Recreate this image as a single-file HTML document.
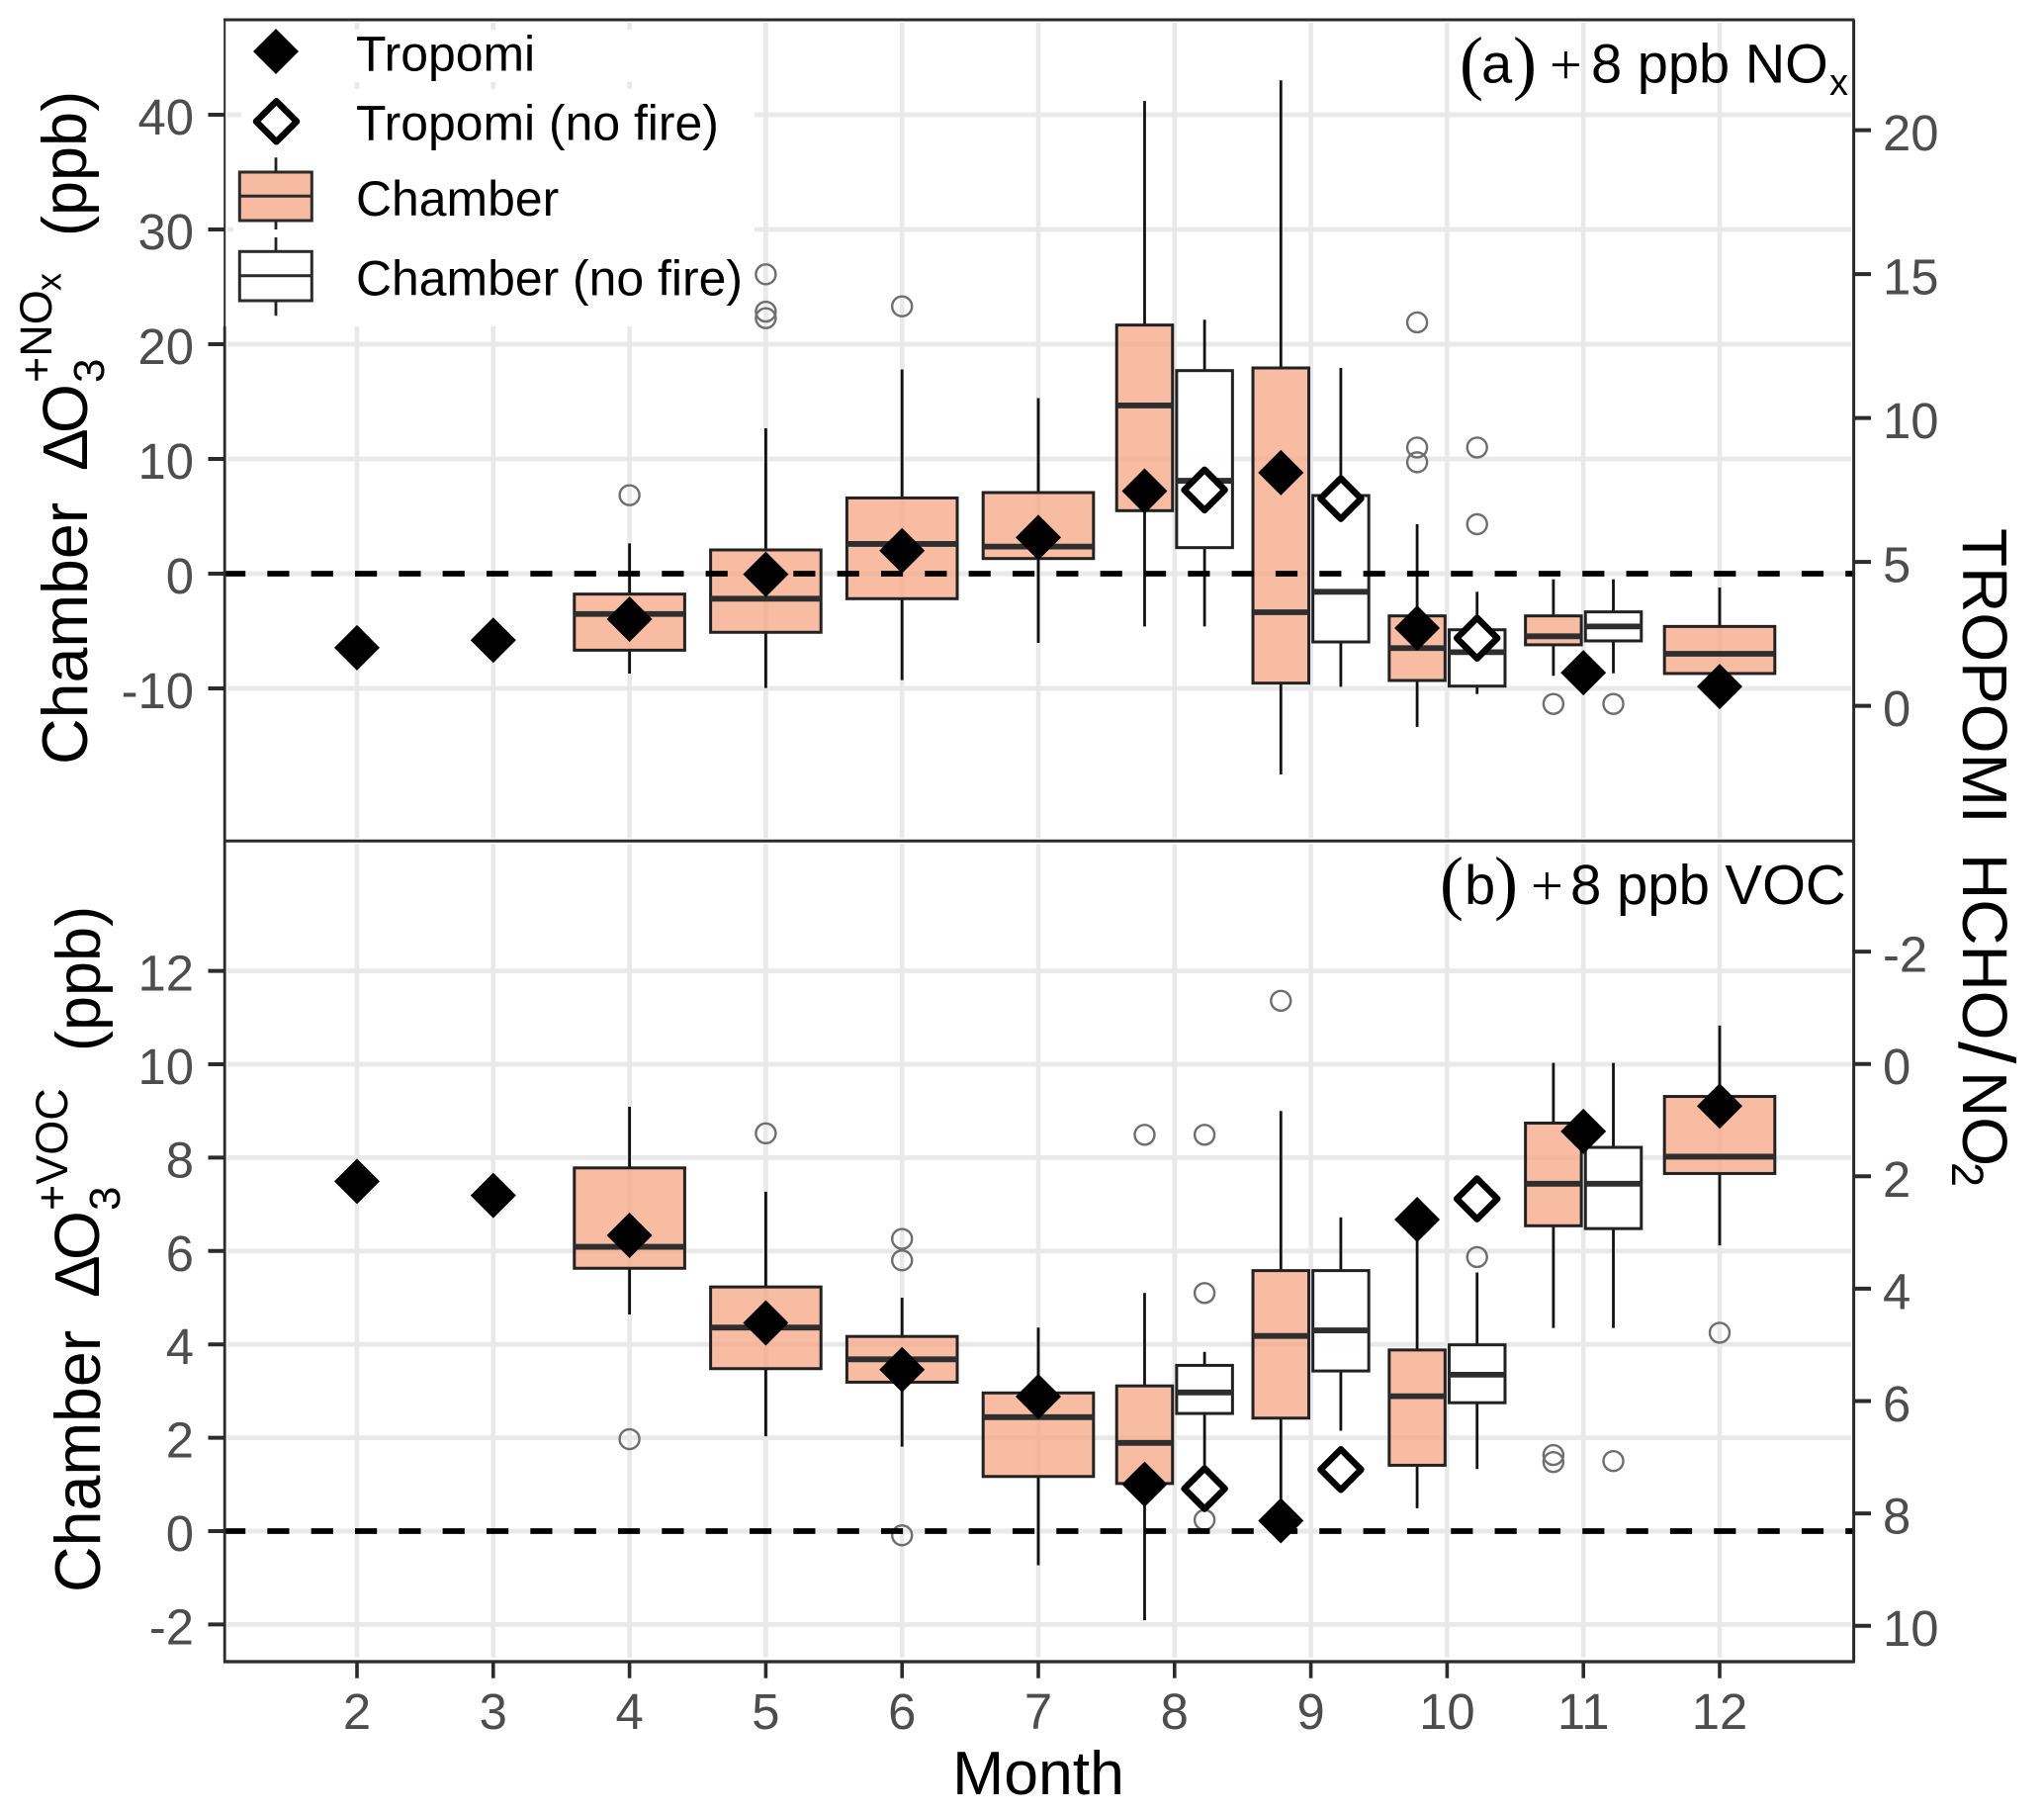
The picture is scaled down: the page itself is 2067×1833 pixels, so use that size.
<!DOCTYPE html>
<html lang="en">
<head>
<meta charset="utf-8">
<title>Chamber and TROPOMI ozone sensitivity by month</title>
<style>
html,body{margin:0;padding:0;background:#fff;width:2067px;height:1833px;overflow:hidden}
svg{display:block}
text{font-family:"Liberation Sans",sans-serif;fill:#000}
.tick{fill:#4d4d4d;font-size:50.8px}
.serif{font-family:"Liberation Serif",serif}
</style>
</head>
<body>
<svg id="chart" width="2067" height="1833" viewBox="0 0 2067 1833" xmlns="http://www.w3.org/2000/svg">
  <g id="grid"></g>
  <g id="marks"></g>
  <g id="refs"></g>
  <g id="points"></g>

  <g id="legend">
    <rect x="228" y="30" width="535" height="53" fill="#fff"/>
    <rect x="228" y="90" width="535" height="240" fill="#fff"/>
    <g>
      <polygon points="279,29 302,52 279,75 256,52" fill="#000"/>
      <text x="360" y="71.7" font-size="49.9">Tropomi</text>
    </g>
    <g>
      <polygon points="279.5,102.3 300,122.8 279.5,143.3 259,122.8" fill="#fff" stroke="#000" stroke-width="6.5" stroke-linejoin="round"/>
      <text x="360" y="141.7" font-size="49.9">Tropomi (no fire)</text>
    </g>
    <g>
      <line x1="279" x2="279" y1="159.3" y2="232" stroke="#222" stroke-width="2.8"/>
      <rect x="242.3" y="174" width="73" height="49" fill="#f7bba2" stroke="#2b2b2b" stroke-width="3"/>
      <line x1="242.3" x2="315.3" y1="198.3" y2="198.3" stroke="#2b2b2b" stroke-width="3"/>
      <text x="360" y="218" font-size="49.9">Chamber</text>
    </g>
    <g>
      <line x1="279" x2="279" y1="240" y2="319.3" stroke="#222" stroke-width="2.8"/>
      <rect x="242.3" y="254.3" width="73" height="49.7" fill="#fff" stroke="#2b2b2b" stroke-width="3"/>
      <line x1="242.3" x2="315.3" y1="278.7" y2="278.7" stroke="#2b2b2b" stroke-width="3"/>
      <text x="360" y="298.3" font-size="49.9">Chamber (no fire)</text>
    </g>
  </g>

  <g id="frame" fill="none" stroke="#2b2b2b">
    <line x1="226" x2="1875.5" y1="20" y2="20" stroke-width="3"/>
    <line x1="226" x2="1875.5" y1="850.3" y2="850.3" stroke-width="3"/>
    <line x1="226" x2="1875.5" y1="1680" y2="1680" stroke-width="3.2"/>
    <line x1="227.2" x2="227.2" y1="20" y2="330" stroke-width="2"/>
    <line x1="227.2" x2="227.2" y1="330" y2="1681" stroke-width="2.8"/>
    <line x1="1874.6" x2="1874.6" y1="20" y2="1681" stroke-width="3"/>
  </g>
  <g id="ticks"></g>

  <g id="titles">
    <text x="1050" y="1814" font-size="62.5" text-anchor="middle">Month</text>

    <g>
      <text transform="translate(88,773) rotate(-90)" font-size="64.5">Chamber</text>
      <text transform="translate(88,476) rotate(-90)" font-size="64">Δ</text>
      <text transform="translate(88,438) rotate(-90)" font-size="64">O</text>
      <text transform="translate(105,387) rotate(-90)" font-size="44">3</text>
      <text transform="translate(52,387) rotate(-90)" font-size="45">+NO</text>
      <text transform="translate(61.7,294) rotate(-90)" font-size="36">x</text>
      <text transform="translate(87,239) rotate(-90)" font-size="63">(ppb)</text>
    </g>

    <g>
      <text transform="translate(101,1610) rotate(-90)" font-size="64.5">Chamber</text>
      <text transform="translate(100,1312) rotate(-90)" font-size="64">Δ</text>
      <text transform="translate(100,1274) rotate(-90)" font-size="64">O</text>
      <text transform="translate(121,1224) rotate(-90)" font-size="44">3</text>
      <text transform="translate(68,1224) rotate(-90)" font-size="45">+VOC</text>
      <text transform="translate(101,1063) rotate(-90)" font-size="63">(ppb)</text>
    </g>

    <g>
      <text transform="translate(1985,534) rotate(90)" font-size="64">TROPOMI</text>
      <text transform="translate(1985,863) rotate(90)" font-size="64">HCHO</text>
      <text transform="translate(1981,1053) rotate(90)" font-size="80">/</text>
      <text transform="translate(1985,1083) rotate(90)" font-size="64">NO</text>
      <text transform="translate(1974,1175) rotate(90)" font-size="45">2</text>
    </g>
  </g>

  <g id="annotation-a">
    <text class="serif" x="1476" y="87" font-size="72">(</text>
    <text x="1498" y="83.4" font-size="56">a</text>
    <text class="serif" x="1530" y="87" font-size="72">)</text>
    <text class="serif" x="1567" y="85" font-size="58">+</text>
    <text x="1609" y="83.4" font-size="56">8 ppb NO</text>
    <text x="1850" y="96" font-size="38">x</text>
  </g>
  <g id="annotation-b">
    <text class="serif" x="1456" y="916" font-size="72">(</text>
    <text x="1481" y="914" font-size="56">b</text>
    <text class="serif" x="1511" y="916" font-size="72">)</text>
    <text class="serif" x="1548" y="915" font-size="58">+</text>
    <text x="1588" y="914" font-size="56.3">8 ppb VOC</text>
  </g>
</svg>

<script>
// ---- tick labels
const monthTicks = [2, 3, 4, 5, 6, 7, 8, 9, 10, 11, 12];
const aLeftTicks = [-10, 0, 10, 20, 30, 40];
const aRightTicks = [0, 5, 10, 15, 20];
const bLeftTicks = [-2, 0, 2, 4, 6, 8, 10, 12];
const bRightTicks = [-2, 0, 2, 4, 6, 8, 10];

// ---- panel (a): +8 ppb NOx, chamber boxes with fire
const aFireX = [4, 5, 6, 7, 7.78, 8.78, 9.78, 10.78, 12];
const aFireHigh = [2.64, 12.67, 17.8, 15.3, 41.2, 43, 4.31, -0.49, -1.2];
const aFireQ3 = [-1.78, 2.07, 6.6, 7.07, 21.67, 17.93, -3.68, -3.68, -4.6];
const aFireMed = [-3.51, -2.18, 2.59, 2.36, 14.66, -3.36, -6.49, -5.46, -6.98];
const aFireQ1 = [-6.67, -5.11, -2.18, 1.32, 5.49, -9.54, -9.31, -6.2, -8.7];
const aFireLow = [-8.71, -9.97, -9.28, -6.03, -4.6, -17.5, -13.36, -8.9, -8.7];
const aFireOut = [[6.84], [26.09, 22.84, 22.27], [23.3], [], [], [], [21.9, 11, 9.71], [-11.35], []];

// ---- panel (a): chamber boxes without fire
const aClearX = [8.22, 9.22, 10.22, 11.22];
const aClearHigh = [22.13, 17.93, -1.58, -0.49];
const aClearQ3 = [17.7, 6.81, -4.89, -3.33];
const aClearMed = [8.1, -1.58, -6.84, -4.6];
const aClearQ1 = [2.27, -5.95, -9.8, -5.86];
const aClearLow = [-4.6, -9.86, -10.49, -8.68];
const aClearOut = [[], [], [11, 4.31], [-11.35]];

// ---- panel (a): Tropomi HCHO/NO2 (right axis units)
const aTropomiX = [2, 3, 4, 5, 6, 7, 7.78, 8.78, 9.78, 11, 12];
const aTropomi = [2.02, 2.28, 3.01, 4.57, 5.39, 5.85, 7.46, 8.1, 2.7, 1.15, 0.67];
const aTropomiClearX = [8.22, 9.22, 10.22];
const aTropomiClear = [7.5, 7.2, 2.35];

// ---- panel (b): +8 ppb VOC, chamber boxes with fire
const bFireX = [4, 5, 6, 7, 7.78, 8.78, 9.78, 10.78, 12];
const bFireHigh = [9.09, 7.27, 5.0, 4.36, 5.1, 9.0, 6.5, 10.03, 10.83];
const bFireQ3 = [7.78, 5.23, 4.17, 2.96, 3.11, 5.58, 3.88, 8.74, 9.31];
const bFireMed = [6.09, 4.36, 3.68, 2.44, 1.89, 4.18, 2.89, 7.44, 8.02];
const bFireQ1 = [5.63, 3.48, 3.19, 1.17, 1.02, 2.42, 1.41, 6.54, 7.66];
const bFireLow = [4.64, 2.03, 1.81, -0.73, -1.91, 0.3, 0.49, 4.35, 6.12];
const bFireOut = [[1.97], [8.52], [6.26, 5.8, -0.09], [], [8.49], [11.36], [], [1.63, 1.48], [4.25]];

// ---- panel (b): chamber boxes without fire
const bClearX = [8.22, 9.22, 10.22, 11.22];
const bClearHigh = [3.84, 6.72, 5.54, 10.03];
const bClearQ3 = [3.55, 5.58, 3.99, 8.22];
const bClearMed = [2.97, 4.3, 3.35, 7.44];
const bClearQ1 = [2.52, 3.43, 2.75, 6.48];
const bClearLow = [1.1, 2.15, 1.33, 4.35];
const bClearOut = [[8.49, 5.1, 0.24], [], [5.87], [1.5]];

// ---- panel (b): Tropomi HCHO/NO2 (right axis units, inverted)
const bTropomiX = [2, 3, 4, 5, 6, 7, 7.78, 8.78, 9.78, 11, 12];
const bTropomi = [2.09, 2.34, 3.05, 4.61, 5.44, 5.92, 7.48, 8.13, 2.77, 1.2, 0.75];
const bTropomiClearX = [8.22, 9.22, 10.22];
const bTropomiClear = [7.56, 7.22, 2.4];

// ---- axis functions
const xMonth = m => 361 + 137.8 * (m - 2);
const yA = v => 580 - 11.6 * v;
const yARight = v => 713.6 - 29.1 * v;
const yB = v => 1548 - 47.2 * v;
const yBRight = v => 1075.7 + 56.8 * v;

const NS = 'http://www.w3.org/2000/svg';
const gGrid = document.getElementById('grid');
const gMarks = document.getElementById('marks');
const gRefs = document.getElementById('refs');
const gPoints = document.getElementById('points');
const gTicks = document.getElementById('ticks');

function mk(tag, parent, props) {
  const el = document.createElementNS(NS, tag);
  for (const k in props) el.setAttribute(k, props[k]);
  parent.appendChild(el);
  return el;
}
function seg(parent, x1, y1, x2, y2, color, w) {
  return mk('line', parent, { x1: x1, y1: y1, x2: x2, y2: y2, stroke: color, 'stroke-width': w });
}

// ---- grid
function drawHGrid(ticks, yf, panel) {
  ticks.forEach(t => {
    const el = seg(gGrid, 230, yf(t), 1872, yf(t), '#e9e9e9', 4.8);
    
    
  });
}
function drawVGrid(y1, y2, panel) {
  monthTicks.forEach(m => {
    const el = seg(gGrid, xMonth(m), y1, xMonth(m), y2, '#e9e9e9', 4.6);
    
    
  });
}
drawHGrid(aLeftTicks, yA, 'a');
drawHGrid(bLeftTicks, yB, 'b');
drawVGrid(23, 847.5, 'a');
drawVGrid(853.3, 1675.7, 'b');

// ---- box plots
function drawBoxes(panel, kind, xs, high, q3, med, q1, low, outs, yf) {
  xs.forEach((x, i) => {
    const cx = xMonth(x);
    const w = (Number.isInteger(x) ? 0.81 : 0.41) * 137.8;
    const g = mk('g', gMarks, {});
    
    
    const wUp = seg(g, cx, yf(high[i]), cx, yf(q3[i]), '#111111', 2.8);
    
    
    const wDown = seg(g, cx, yf(q1[i]), cx, yf(low[i]), '#111111', 2.8);
    
    
    const fill = kind === 'fire' ? '#f4a582' : '#ffffff';
    const alpha = kind === 'fire' ? 0.75 : 0.92;
    const r = mk('rect', g, {
      x: cx - w / 2, y: yf(q3[i]), width: w, height: yf(q1[i]) - yf(q3[i]),
      fill: fill, 'fill-opacity': alpha, stroke: '#222222', 'stroke-width': 3
    });
    
    
    const m = seg(g, cx - w / 2, yf(med[i]), cx + w / 2, yf(med[i]), '#2e2e2e', 5.8);
    
    
    outs[i].forEach(v => {
      const c = mk('circle', g, { cx: cx, cy: yf(v), r: 10, fill: 'none', stroke: '#6e6e6e', 'stroke-width': 2.4 });
      
      
    });
  });
}
drawBoxes('a', 'fire', aFireX, aFireHigh, aFireQ3, aFireMed, aFireQ1, aFireLow, aFireOut, yA);
drawBoxes('a', 'no-fire', aClearX, aClearHigh, aClearQ3, aClearMed, aClearQ1, aClearLow, aClearOut, yA);
drawBoxes('b', 'fire', bFireX, bFireHigh, bFireQ3, bFireMed, bFireQ1, bFireLow, bFireOut, yB);
drawBoxes('b', 'no-fire', bClearX, bClearHigh, bClearQ3, bClearMed, bClearQ1, bClearLow, bClearOut, yB);

// ---- dashed zero lines
[['a', yA(0)], ['b', yB(0)]].forEach(p => {
  const el = seg(gRefs, 226, p[1], 1874, p[1], '#000', 5.8);
  el.setAttribute('stroke-dasharray', '22.2 22.13');
  
  
});

// ---- Tropomi diamonds
function diamond(cx, cy, h) {
  return [cx, cy - h, cx + h, cy, cx, cy + h, cx - h, cy].join(',');
}
function drawDiamonds(panel, xs, vals, yf, open) {
  xs.forEach((x, i) => {
    const cx = xMonth(x), cy = yf(vals[i]);
    const props = open
      ? { points: diamond(cx, cy, 20.5), fill: '#fff', stroke: '#000', 'stroke-width': 6.5, 'stroke-linejoin': 'round' }
      : { points: diamond(cx, cy, 23), fill: '#000' };
    const el = mk('polygon', gPoints, props);
    
    
  });
}
drawDiamonds('a', aTropomiX, aTropomi, yARight, false);
drawDiamonds('a', aTropomiClearX, aTropomiClear, yARight, true);
drawDiamonds('b', bTropomiX, bTropomi, yBRight, false);
drawDiamonds('b', bTropomiClearX, bTropomiClear, yBRight, true);

// ---- grid stubs beside the legend
[30, 40].forEach(t => {
  const el = seg(document.getElementById('legend'), 230, yA(t), t === 40 ? 244 : 236, yA(t), '#e9e9e9', 4.8);
  
  
});

// ---- ticks and labels
function tickLabel(str, x, y, anchor, name) {
  const t = mk('text', gTicks, { x: x, y: y, 'text-anchor': anchor, class: 'tick' });
  t.textContent = str;
  
  
}
function drawLeft(ticks, yf, panel) {
  ticks.forEach(v => {
    const l = seg(gTicks, 210.5, yf(v), 227, yf(v), '#2b2b2b', 4);
    
    
    tickLabel(String(v), 196, yf(v) + 20, 'end', 'y-tick-label-' + panel + '-' + v);
  });
}
function drawRight(ticks, yf, panel) {
  ticks.forEach(v => {
    const l = seg(gTicks, 1874.6, yf(v), 1892, yf(v), '#2b2b2b', 4);
    
    
    tickLabel(String(v), 1904, yf(v) + 20.5, 'start', 'right-tick-label-' + panel + '-' + v);
  });
}
drawLeft(aLeftTicks, yA, 'a');
drawLeft(bLeftTicks, yB, 'b');
drawRight(aRightTicks, yARight, 'a');
drawRight(bRightTicks, yBRight, 'b');
monthTicks.forEach(m => {
  const l = seg(gTicks, xMonth(m), 1680, xMonth(m), 1696.7, '#2b2b2b', 3.6);
  
  
  tickLabel(String(m), xMonth(m), 1748, 'middle', 'x-tick-label-' + m);
});
</script>
</body>
</html>
